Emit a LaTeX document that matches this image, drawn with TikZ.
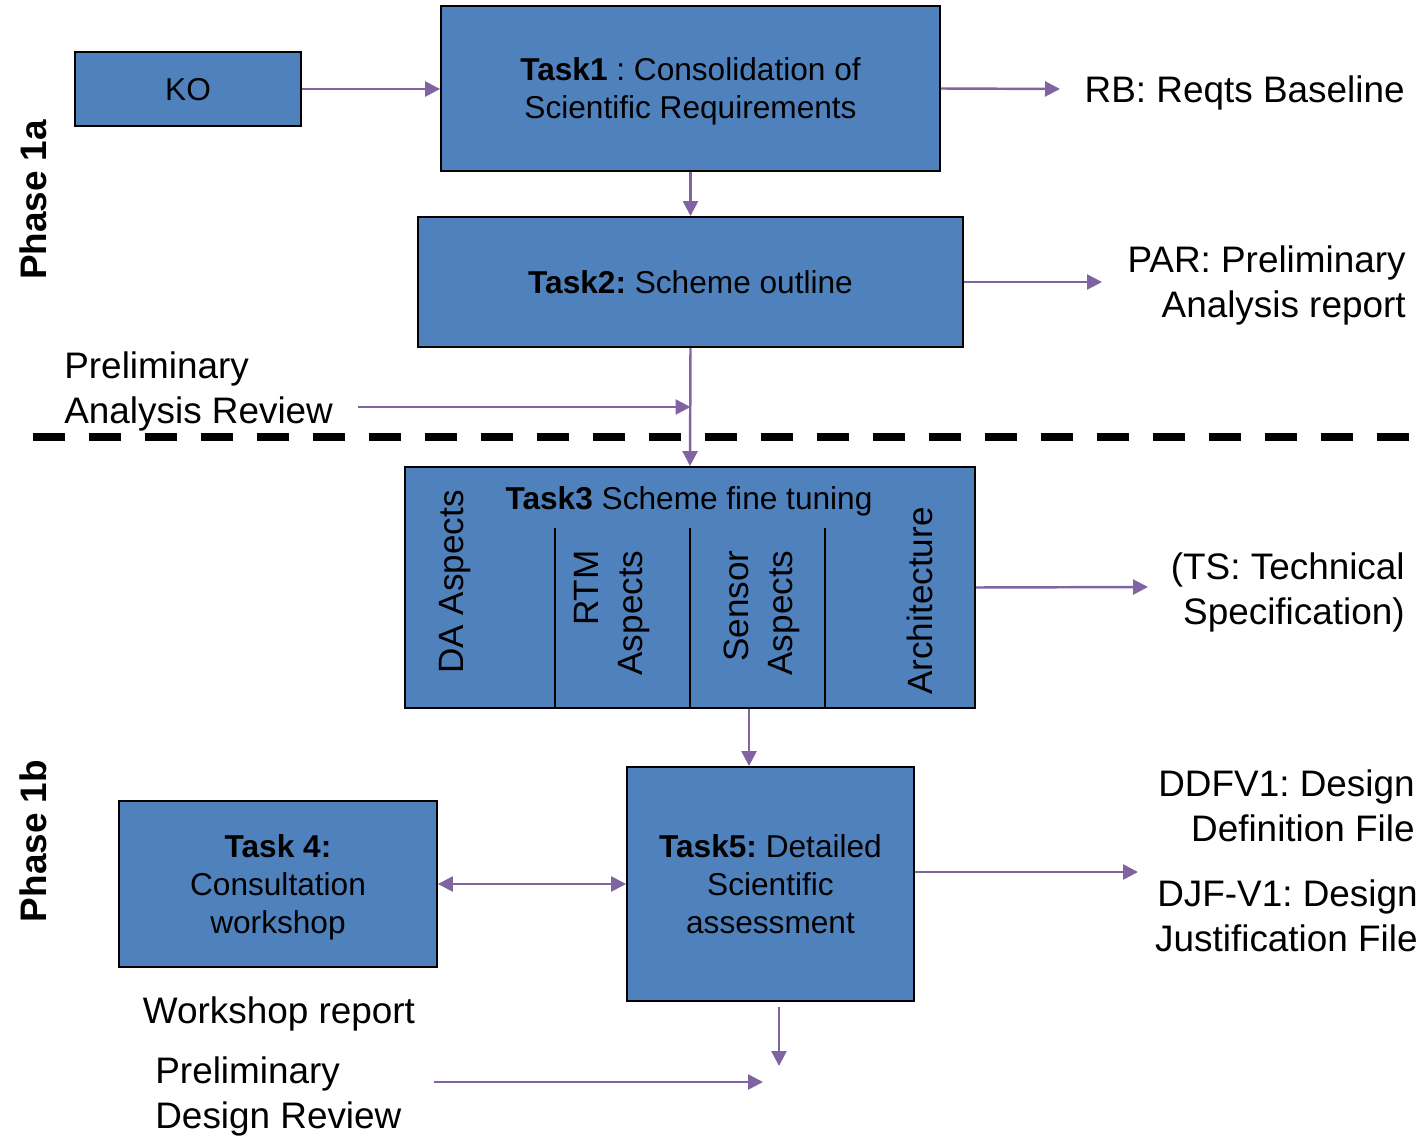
\documentclass[tikz,border=0pt]{standalone}
\usepackage{fontspec}
\setmainfont{Liberation Sans}
\usepackage{xcolor}
\usetikzlibrary{positioning,calc,arrows.meta}
\frenchspacing

\definecolor{taskblue}{HTML}{4F81BD}
\definecolor{flowpurple}{HTML}{8064A2}

\begin{document}
\begin{tikzpicture}[x=0.02cm, y=-0.02cm,
    taskbox/.style={draw=black, line width=1.1pt, fill=taskblue, align=center,
        inner sep=0pt, text depth=0pt, font=\fontsize{18}{21.6}\selectfont},
    flow/.style={draw=flowpurple, line width=1.4pt},
    >={Triangle[length=0.3cm,width=0.3cm]},
    outlabel/.style={inner sep=0pt, align=right, font=\fontsize{21}{25.6}\selectfont},
    aspect/.style={inner sep=0pt, rotate=90, align=right, font=\fontsize{20}{25}\selectfont},
    phase/.style={inner sep=0pt, rotate=90, font=\fontsize{21}{25}\selectfont\bfseries}]
    \useasboundingbox (0,0) rectangle (1422,1138);

    % Phases
    \node[phase] (ph1a) at (33,200) {Phase 1a};
    \node[phase] (ph1b) at (33,841) {Phase 1b};

    % Phase 1a boxes
    \node[taskbox, minimum width=4.52cm, minimum height=1.48cm] (ko) at (188,89) {KO};
    \node[taskbox, minimum width=9.98cm, minimum height=3.3cm] (task1) at (690.5,88.5)
        {\textbf{Task1} : Consolidation of\\Scientific Requirements};
    \node[taskbox, minimum width=10.9cm, minimum height=2.6cm] (task2) at (690.5,282)
        {\textbf{Task2:} Scheme outline};

    % Outputs phase 1a
    \node[outlabel, anchor=east] (rb) at (1405,93) {RB: Reqts Baseline};
    \node[outlabel, anchor=east] (par) at (1406,285.5) {PAR: Preliminary\\Analysis report};
    \node[outlabel, anchor=west, align=left] (review) at (64,391) {Preliminary\\Analysis Review};

    % Separation line
    \draw[line width=4pt, dash pattern=on 0.64cm off 0.48cm] (33,437) -- (1410,437);

    % Task3 with aspects
    \node[taskbox, minimum width=11.4cm, minimum height=4.82cm] (task3) at (690,587.5) {};
    \node[inner sep=0pt, font=\fontsize{18}{21.6}\selectfont] (task3title) at (689,501)
        {\textbf{Task3} Scheme fine tuning};
    \foreach \x in {555,690,825}
        \draw[line width=1.1pt] (\x,528) -- (task3.south -| \x,0);
    \node[aspect] (da) at (455,582) {DA Aspects};
    \node[aspect] (rtm) at (612,613) {RTM\\Aspects};
    \node[aspect] (sensor) at (761.5,613) {Sensor\\Aspects};
    \node[aspect] (arch) at (920,601) {Architecture};

    % Phase 1b boxes
    \node[taskbox, minimum width=6.36cm, minimum height=3.32cm] (task4) at (278,884)
        {\textbf{Task 4:}\\Consultation\\workshop};
    \node[taskbox, minimum width=5.74cm, minimum height=4.68cm] (task5) at (770.5,884)
        {\textbf{Task5:} Detailed\\Scientific\\assessment};

    % Outputs phase 1b
    \node[outlabel, anchor=east] (ts) at (1405,592) {(TS: Technical\\Specification)};
    \node[outlabel, anchor=east] (ddfv) at (1415,806) {DDFV1: Design\\Definition File};
    \node[outlabel, anchor=east] (djf) at (1418,916) {DJF-V1: Design\\Justification File};
    \node[outlabel, align=center] (wsrep) at (279,1014) {Workshop report};
    \node[outlabel, anchor=west, align=left] (pdr) at (155,1096.5) {Preliminary\\Design Review};

    % Free ends
    \coordinate (rbin) at (1060,89);
    \coordinate (parin) at (1102,282);
    \coordinate (revout) at (358,407);
    \coordinate (tsin) at (1148,587);
    \coordinate (ddin) at (1138,872);
    \coordinate (dnout) at (779,1007);
    \coordinate (dnin) at (779,1066);
    \coordinate (pdrout) at (434,1082);
    \coordinate (pdrin) at (763,1082);

    % Arrows
    \draw[flow,->] (ko.east) -- (ko.east -| task1.west);
    \draw[flow,->] (task1.east) -- (rbin);
    \draw[flow,->] (task1.south) -- (task2.north);
    \draw[flow,->] (task2.east) -- (parin);
    \draw[flow,->] (task2.south) -- (task3.north);
    \draw[flow,->] (revout) -- (revout -| task2.south);
    \draw[flow,->] (task3.east) -- (tsin);
    \draw[flow,->] (task3.south -| 749,0) -- (task5.north -| 749,0);
    \draw[flow,<->] (task4.east) -- (task5.west);
    \draw[flow,->] (ddin -| task5.east) -- (ddin);
    \draw[flow,->] (dnout) -- (dnin);
    \draw[flow,->] (pdrout) -- (pdrin);
\end{tikzpicture}
\end{document}
